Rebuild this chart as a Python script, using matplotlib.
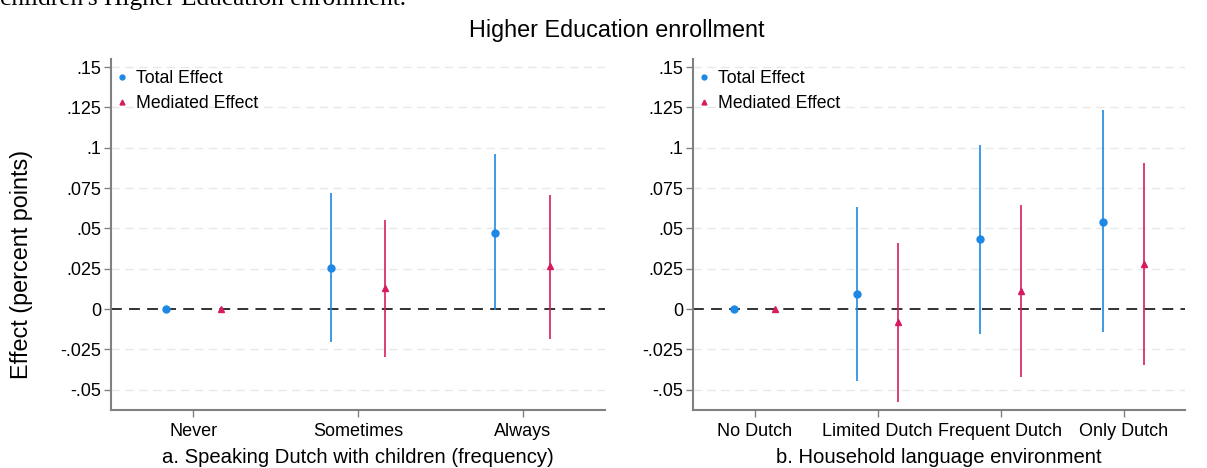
import matplotlib
matplotlib.use("Agg")
import matplotlib.pyplot as plt
import numpy as np

plt.rcParams['font.family'] = ['Liberation Sans', 'DejaVu Sans']

# ---------------- data ----------------
cats_a = ["Never", "Sometimes", "Always"]
total_a = [0.0, 0.0258, 0.0473]
total_a_lo = [0.0, -0.0203, -0.0005]
total_a_hi = [0.0, 0.0721, 0.0961]
med_a = [0.0, 0.0128, 0.0267]
med_a_lo = [0.0, -0.0296, -0.0182]
med_a_hi = [0.0, 0.0552, 0.0707]

cats_b = ["No Dutch", "Limited Dutch", "Frequent Dutch", "Only Dutch"]
total_b = [0.0, 0.0093, 0.0432, 0.0541]
total_b_lo = [0.0, -0.0446, -0.0157, -0.0143]
total_b_hi = [0.0, 0.0630, 0.1020, 0.1234]
med_b = [0.0, -0.0080, 0.0112, 0.0279]
med_b_lo = [0.0, -0.0578, -0.0423, -0.0347]
med_b_hi = [0.0, 0.0410, 0.0647, 0.0903]

yticks = [-0.05, -0.025, 0, 0.025, 0.05, 0.075, 0.1, 0.125, 0.15]
ytick_labels = ["-.05", "-.025", "0", ".025", ".05", ".075", ".1", ".125", ".15"]

xlabel_a = "a. Speaking Dutch with children (frequency)"
xlabel_b = "b. Household language environment"
title = "Higher Education enrollment"
ylabel = "Effect (percent points)"
top_text = "children's Higher Education enrollment."

BLUE = "#1E88E5"
RED = "#D81B60"
GRID = "#e8e8e8"
SPINE = "#808080"

W, H = 1207, 468
fig = plt.figure(figsize=(W / 100, H / 100), dpi=100)


def px_axes(x0, x1, ytop, ybot):
    return [x0 / W, 1 - ybot / H, (x1 - x0) / W, (ybot - ytop) / H]


def panel(ax, cats, tot, tlo, thi, med, mlo, mhi, xlabel):
    n = len(cats)
    x = np.arange(1, n + 1)
    off = 1 / 6
    for yv in yticks:
        if yv != 0:
            ax.axhline(yv, color=GRID, lw=1.0, ls=(0, (6, 4)), zorder=0)
    ax.axhline(0, color="#222222", lw=1.3, ls=(0, (6, 4)), zorder=1)
    tot = np.array(tot); med = np.array(med)
    ax.vlines(x - off, tlo, thi, color=BLUE, lw=1.4, alpha=0.85, zorder=2)
    ax.vlines(x + off, mlo, mhi, color=RED, lw=1.4, alpha=0.85, zorder=2)
    ax.plot(x - off, tot, ls="none", marker="o", ms=5, color=BLUE,
            label="Total Effect", zorder=3)
    ax.plot(x + off, med, ls="none", marker="^", ms=5, color=RED,
            label="Mediated Effect", zorder=3)
    ax.set_xlim(0.5, n + 0.5)
    ax.set_ylim(-0.0625, 0.155)
    ax.set_xticks(x)
    ax.set_xticklabels(cats, fontsize=13)
    ax.set_yticks(yticks)
    ax.set_yticklabels(ytick_labels, fontsize=13)
    for s in ["top", "right"]:
        ax.spines[s].set_visible(False)
    for s in ["left", "bottom"]:
        ax.spines[s].set_color(SPINE)
        ax.spines[s].set_linewidth(1.5)
    ax.tick_params(axis="both", colors=SPINE, labelcolor="black",
                   length=5, width=1.0, direction="out")
    ax.tick_params(axis="x", pad=4)
    ax.tick_params(axis="y", pad=2)
    ax.set_xlabel(xlabel, fontsize=14.6, labelpad=6)
    ax.legend(loc="upper left", bbox_to_anchor=(0.0, 0.985),
              frameon=False, fontsize=12.7,
              handlelength=0.6, handletextpad=0.45, markerscale=0.7,
              borderaxespad=0.15, borderpad=0.2, labelspacing=0.45)


ax1 = fig.add_axes(px_axes(111, 605, 59, 410))
panel(ax1, cats_a, total_a, total_a_lo, total_a_hi, med_a, med_a_lo, med_a_hi, xlabel_a)
ax2 = fig.add_axes(px_axes(693, 1185, 59, 410))
panel(ax2, cats_b, total_b, total_b_lo, total_b_hi, med_b, med_b_lo, med_b_hi, xlabel_b)

fig.text(617 / W, 1 - 31 / H, title, ha="center", va="center", fontsize=16.8)
fig.text(22 / W, 1 - 264 / H, ylabel, ha="center", va="center",
         rotation=90, fontsize=16.8)
fig.text(0.0, 1 - 5 / H, top_text, ha="left", va="baseline",
         fontsize=18.3, family=["Liberation Serif", "DejaVu Serif"])

fig.savefig("out.png", dpi=100)
